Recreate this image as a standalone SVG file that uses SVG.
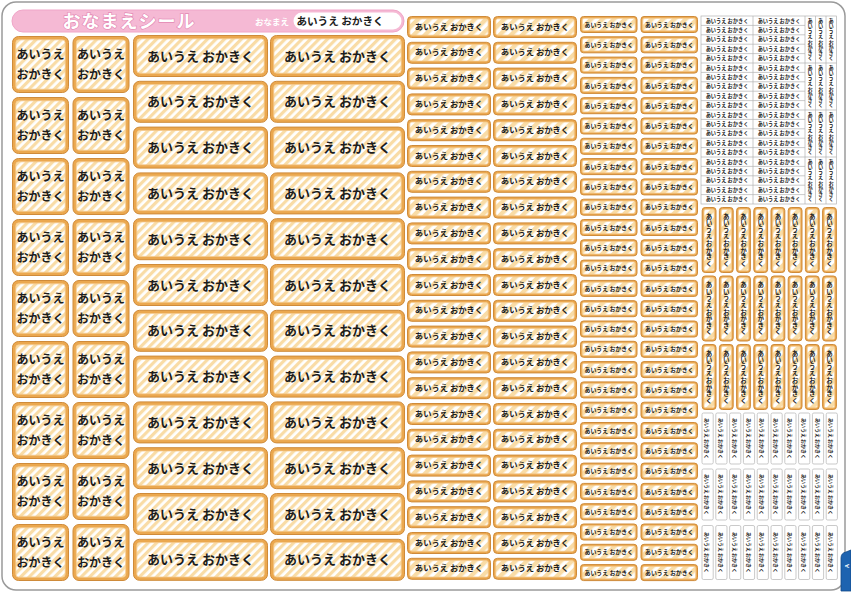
<svg xmlns="http://www.w3.org/2000/svg" width="851" height="593" viewBox="0 0 851 593">
<style>
text{font-family:"Noto Sans CJK JP","Noto Sans CJK SC",sans-serif;font-weight:700;fill:#1c1c1c;text-anchor:middle}
.t1{font-size:12px}
.t2{font-size:13px}
.t3{font-size:8.3px}
.t4{font-size:5.9px}
.t5{font-size:5.2px}
.t6{font-size:6.5px;writing-mode:vertical-rl}
.t7{font-size:5.2px;writing-mode:vertical-rl}
.t8{font-size:5px;dominant-baseline:central}
.o{fill:#eba84f;stroke:#cf8b3a;stroke-width:1}
.i{stroke:#f5cc90;stroke-width:0.8}
.w{fill:#fff;stroke:#b3b3b3;stroke-width:0.7}
</style>
<defs>
<pattern id="st" patternUnits="userSpaceOnUse" width="6" height="6" patternTransform="rotate(45)">
<rect width="6" height="6" fill="#ffffff"/><rect width="3.2" height="6" fill="#f9dca6"/>
</pattern>
<pattern id="st2" patternUnits="userSpaceOnUse" width="8" height="8" patternTransform="rotate(45)">
<rect width="8" height="8" fill="#ffffff"/><rect width="4.4" height="8" fill="#f9dca6"/>
</pattern>
<g id="sq"><rect class="o" x="0.5" y="0.5" width="56" height="56" rx="6"/><rect class="i" x="3.8" y="3.8" width="49.4" height="49.4" rx="3" fill="url(#st)"/></g>
<g id="wd"><rect class="o" x="0.5" y="0.5" width="134" height="41" rx="6"/><rect class="i" x="3.8" y="3.8" width="127.4" height="34.4" rx="3" fill="url(#st)"/></g>
<g id="sm"><rect class="o" x="0.5" y="0.5" width="83" height="21" rx="4"/><rect class="i" x="2.8" y="2.8" width="78.4" height="16.4" rx="2" fill="url(#st2)"/></g>
<g id="ti"><rect class="o" x="0.5" y="0.5" width="56.5" height="16" rx="3"/><rect class="i" x="2.3" y="2.3" width="52.9" height="12.4" rx="1.5" fill="url(#st2)"/></g>
<g id="vt"><rect class="o" x="0.5" y="0.5" width="13.8" height="65" rx="3"/><rect class="i" x="2.3" y="2.3" width="10.2" height="61.4" rx="1.5" fill="url(#st2)"/></g>
</defs>

<rect width="851" height="593" fill="#fff"/>
<rect id="sheet" x="2" y="2" width="843" height="588" rx="14" fill="#fff" stroke="#9a9a9a" stroke-width="1.5"/>
<g id="tab">
<path d="M841 558 Q841 553 846 552 L851 550 L851 591 L841 591 Z" fill="#1d63b0" stroke="#124a88" stroke-width="0.8"/>
<text transform="translate(846.5,566) rotate(-90)" style="font-family:'Liberation Sans',sans-serif;font-size:6px;fill:#fff;dominant-baseline:central">A</text>
</g>

<g id="header">
<rect x="12" y="10" width="392" height="22" rx="11" fill="#f5b9d4" stroke="#f0a6c8" stroke-width="1"/>
<text x="129" y="28" style="font-size:18px;fill:#fff;stroke:#e48ab4;stroke-width:1.3px;paint-order:stroke;letter-spacing:1px">おなまえシール</text>
<text x="272" y="24.5" style="font-size:8.5px;fill:#fff">おなまえ</text>
<rect x="293.5" y="12.5" width="108" height="17" rx="8.5" fill="#fff"/>
<text x="340" y="25" style="font-size:10.6px">あいうえ おかきく</text>
</g>

<g id="col1" class="t1">
<use href="#sq" x="12" y="36"/><use href="#sq" x="72.5" y="36"/>
<use href="#sq" x="12" y="97"/><use href="#sq" x="72.5" y="97"/>
<use href="#sq" x="12" y="158"/><use href="#sq" x="72.5" y="158"/>
<use href="#sq" x="12" y="219"/><use href="#sq" x="72.5" y="219"/>
<use href="#sq" x="12" y="280"/><use href="#sq" x="72.5" y="280"/>
<use href="#sq" x="12" y="341"/><use href="#sq" x="72.5" y="341"/>
<use href="#sq" x="12" y="402"/><use href="#sq" x="72.5" y="402"/>
<use href="#sq" x="12" y="463"/><use href="#sq" x="72.5" y="463"/>
<use href="#sq" x="12" y="524"/><use href="#sq" x="72.5" y="524"/>
<text x="40.5" y="59">あいうえ<tspan x="40.5" y="79">おかきく</tspan></text><text x="101" y="59">あいうえ<tspan x="101" y="79">おかきく</tspan></text>
<text x="40.5" y="120">あいうえ<tspan x="40.5" y="140">おかきく</tspan></text><text x="101" y="120">あいうえ<tspan x="101" y="140">おかきく</tspan></text>
<text x="40.5" y="181">あいうえ<tspan x="40.5" y="201">おかきく</tspan></text><text x="101" y="181">あいうえ<tspan x="101" y="201">おかきく</tspan></text>
<text x="40.5" y="242">あいうえ<tspan x="40.5" y="262">おかきく</tspan></text><text x="101" y="242">あいうえ<tspan x="101" y="262">おかきく</tspan></text>
<text x="40.5" y="303">あいうえ<tspan x="40.5" y="323">おかきく</tspan></text><text x="101" y="303">あいうえ<tspan x="101" y="323">おかきく</tspan></text>
<text x="40.5" y="364">あいうえ<tspan x="40.5" y="384">おかきく</tspan></text><text x="101" y="364">あいうえ<tspan x="101" y="384">おかきく</tspan></text>
<text x="40.5" y="425">あいうえ<tspan x="40.5" y="445">おかきく</tspan></text><text x="101" y="425">あいうえ<tspan x="101" y="445">おかきく</tspan></text>
<text x="40.5" y="486">あいうえ<tspan x="40.5" y="506">おかきく</tspan></text><text x="101" y="486">あいうえ<tspan x="101" y="506">おかきく</tspan></text>
<text x="40.5" y="547">あいうえ<tspan x="40.5" y="567">おかきく</tspan></text><text x="101" y="547">あいうえ<tspan x="101" y="567">おかきく</tspan></text>
</g>

<g id="col2" class="t2">
<use href="#wd" x="133" y="35"/><use href="#wd" x="270" y="35"/>
<use href="#wd" x="133" y="80.8"/><use href="#wd" x="270" y="80.8"/>
<use href="#wd" x="133" y="126.6"/><use href="#wd" x="270" y="126.6"/>
<use href="#wd" x="133" y="172.4"/><use href="#wd" x="270" y="172.4"/>
<use href="#wd" x="133" y="218.2"/><use href="#wd" x="270" y="218.2"/>
<use href="#wd" x="133" y="264"/><use href="#wd" x="270" y="264"/>
<use href="#wd" x="133" y="309.8"/><use href="#wd" x="270" y="309.8"/>
<use href="#wd" x="133" y="355.6"/><use href="#wd" x="270" y="355.6"/>
<use href="#wd" x="133" y="401.4"/><use href="#wd" x="270" y="401.4"/>
<use href="#wd" x="133" y="447.2"/><use href="#wd" x="270" y="447.2"/>
<use href="#wd" x="133" y="493"/><use href="#wd" x="270" y="493"/>
<use href="#wd" x="133" y="538.8"/><use href="#wd" x="270" y="538.8"/>
<text x="200.5" y="60.5">あいうえ おかきく</text><text x="337.5" y="60.5">あいうえ おかきく</text>
<text x="200.5" y="106.3">あいうえ おかきく</text><text x="337.5" y="106.3">あいうえ おかきく</text>
<text x="200.5" y="152.1">あいうえ おかきく</text><text x="337.5" y="152.1">あいうえ おかきく</text>
<text x="200.5" y="197.9">あいうえ おかきく</text><text x="337.5" y="197.9">あいうえ おかきく</text>
<text x="200.5" y="243.7">あいうえ おかきく</text><text x="337.5" y="243.7">あいうえ おかきく</text>
<text x="200.5" y="289.5">あいうえ おかきく</text><text x="337.5" y="289.5">あいうえ おかきく</text>
<text x="200.5" y="335.3">あいうえ おかきく</text><text x="337.5" y="335.3">あいうえ おかきく</text>
<text x="200.5" y="381.1">あいうえ おかきく</text><text x="337.5" y="381.1">あいうえ おかきく</text>
<text x="200.5" y="426.9">あいうえ おかきく</text><text x="337.5" y="426.9">あいうえ おかきく</text>
<text x="200.5" y="472.7">あいうえ おかきく</text><text x="337.5" y="472.7">あいうえ おかきく</text>
<text x="200.5" y="518.5">あいうえ おかきく</text><text x="337.5" y="518.5">あいうえ おかきく</text>
<text x="200.5" y="564.3">あいうえ おかきく</text><text x="337.5" y="564.3">あいうえ おかきく</text>
</g>

<g id="col3" class="t3">
<use href="#sm" x="407" y="16"/><use href="#sm" x="493" y="16"/>
<use href="#sm" x="407" y="41.8"/><use href="#sm" x="493" y="41.8"/>
<use href="#sm" x="407" y="67.6"/><use href="#sm" x="493" y="67.6"/>
<use href="#sm" x="407" y="93.4"/><use href="#sm" x="493" y="93.4"/>
<use href="#sm" x="407" y="119.2"/><use href="#sm" x="493" y="119.2"/>
<use href="#sm" x="407" y="145"/><use href="#sm" x="493" y="145"/>
<use href="#sm" x="407" y="170.8"/><use href="#sm" x="493" y="170.8"/>
<use href="#sm" x="407" y="196.6"/><use href="#sm" x="493" y="196.6"/>
<use href="#sm" x="407" y="222.4"/><use href="#sm" x="493" y="222.4"/>
<use href="#sm" x="407" y="248.2"/><use href="#sm" x="493" y="248.2"/>
<use href="#sm" x="407" y="274"/><use href="#sm" x="493" y="274"/>
<use href="#sm" x="407" y="299.8"/><use href="#sm" x="493" y="299.8"/>
<use href="#sm" x="407" y="325.6"/><use href="#sm" x="493" y="325.6"/>
<use href="#sm" x="407" y="351.4"/><use href="#sm" x="493" y="351.4"/>
<use href="#sm" x="407" y="377.2"/><use href="#sm" x="493" y="377.2"/>
<use href="#sm" x="407" y="403"/><use href="#sm" x="493" y="403"/>
<use href="#sm" x="407" y="428.8"/><use href="#sm" x="493" y="428.8"/>
<use href="#sm" x="407" y="454.6"/><use href="#sm" x="493" y="454.6"/>
<use href="#sm" x="407" y="480.4"/><use href="#sm" x="493" y="480.4"/>
<use href="#sm" x="407" y="506.2"/><use href="#sm" x="493" y="506.2"/>
<use href="#sm" x="407" y="532"/><use href="#sm" x="493" y="532"/>
<use href="#sm" x="407" y="557.8"/><use href="#sm" x="493" y="557.8"/>
<text x="449" y="29.5">あいうえ おかきく</text><text x="535" y="29.5">あいうえ おかきく</text>
<text x="449" y="55.3">あいうえ おかきく</text><text x="535" y="55.3">あいうえ おかきく</text>
<text x="449" y="81.1">あいうえ おかきく</text><text x="535" y="81.1">あいうえ おかきく</text>
<text x="449" y="106.9">あいうえ おかきく</text><text x="535" y="106.9">あいうえ おかきく</text>
<text x="449" y="132.7">あいうえ おかきく</text><text x="535" y="132.7">あいうえ おかきく</text>
<text x="449" y="158.5">あいうえ おかきく</text><text x="535" y="158.5">あいうえ おかきく</text>
<text x="449" y="184.3">あいうえ おかきく</text><text x="535" y="184.3">あいうえ おかきく</text>
<text x="449" y="210.1">あいうえ おかきく</text><text x="535" y="210.1">あいうえ おかきく</text>
<text x="449" y="235.9">あいうえ おかきく</text><text x="535" y="235.9">あいうえ おかきく</text>
<text x="449" y="261.7">あいうえ おかきく</text><text x="535" y="261.7">あいうえ おかきく</text>
<text x="449" y="287.5">あいうえ おかきく</text><text x="535" y="287.5">あいうえ おかきく</text>
<text x="449" y="313.3">あいうえ おかきく</text><text x="535" y="313.3">あいうえ おかきく</text>
<text x="449" y="339.1">あいうえ おかきく</text><text x="535" y="339.1">あいうえ おかきく</text>
<text x="449" y="364.9">あいうえ おかきく</text><text x="535" y="364.9">あいうえ おかきく</text>
<text x="449" y="390.7">あいうえ おかきく</text><text x="535" y="390.7">あいうえ おかきく</text>
<text x="449" y="416.5">あいうえ おかきく</text><text x="535" y="416.5">あいうえ おかきく</text>
<text x="449" y="442.3">あいうえ おかきく</text><text x="535" y="442.3">あいうえ おかきく</text>
<text x="449" y="468.1">あいうえ おかきく</text><text x="535" y="468.1">あいうえ おかきく</text>
<text x="449" y="493.9">あいうえ おかきく</text><text x="535" y="493.9">あいうえ おかきく</text>
<text x="449" y="519.7">あいうえ おかきく</text><text x="535" y="519.7">あいうえ おかきく</text>
<text x="449" y="545.5">あいうえ おかきく</text><text x="535" y="545.5">あいうえ おかきく</text>
<text x="449" y="571.3">あいうえ おかきく</text><text x="535" y="571.3">あいうえ おかきく</text>
</g>

<g id="col4" class="t4">
<use href="#ti" x="580" y="16"/><use href="#ti" x="640.5" y="16"/>
<use href="#ti" x="580" y="36.3"/><use href="#ti" x="640.5" y="36.3"/>
<use href="#ti" x="580" y="56.6"/><use href="#ti" x="640.5" y="56.6"/>
<use href="#ti" x="580" y="76.9"/><use href="#ti" x="640.5" y="76.9"/>
<use href="#ti" x="580" y="97.2"/><use href="#ti" x="640.5" y="97.2"/>
<use href="#ti" x="580" y="117.5"/><use href="#ti" x="640.5" y="117.5"/>
<use href="#ti" x="580" y="137.8"/><use href="#ti" x="640.5" y="137.8"/>
<use href="#ti" x="580" y="158.1"/><use href="#ti" x="640.5" y="158.1"/>
<use href="#ti" x="580" y="178.4"/><use href="#ti" x="640.5" y="178.4"/>
<use href="#ti" x="580" y="198.7"/><use href="#ti" x="640.5" y="198.7"/>
<use href="#ti" x="580" y="219"/><use href="#ti" x="640.5" y="219"/>
<use href="#ti" x="580" y="239.3"/><use href="#ti" x="640.5" y="239.3"/>
<use href="#ti" x="580" y="259.6"/><use href="#ti" x="640.5" y="259.6"/>
<use href="#ti" x="580" y="279.9"/><use href="#ti" x="640.5" y="279.9"/>
<use href="#ti" x="580" y="300.2"/><use href="#ti" x="640.5" y="300.2"/>
<use href="#ti" x="580" y="320.5"/><use href="#ti" x="640.5" y="320.5"/>
<use href="#ti" x="580" y="340.8"/><use href="#ti" x="640.5" y="340.8"/>
<use href="#ti" x="580" y="361.1"/><use href="#ti" x="640.5" y="361.1"/>
<use href="#ti" x="580" y="381.4"/><use href="#ti" x="640.5" y="381.4"/>
<use href="#ti" x="580" y="401.7"/><use href="#ti" x="640.5" y="401.7"/>
<use href="#ti" x="580" y="422"/><use href="#ti" x="640.5" y="422"/>
<use href="#ti" x="580" y="442.3"/><use href="#ti" x="640.5" y="442.3"/>
<use href="#ti" x="580" y="462.6"/><use href="#ti" x="640.5" y="462.6"/>
<use href="#ti" x="580" y="482.9"/><use href="#ti" x="640.5" y="482.9"/>
<use href="#ti" x="580" y="503.2"/><use href="#ti" x="640.5" y="503.2"/>
<use href="#ti" x="580" y="523.5"/><use href="#ti" x="640.5" y="523.5"/>
<use href="#ti" x="580" y="543.8"/><use href="#ti" x="640.5" y="543.8"/>
<use href="#ti" x="580" y="564.1"/><use href="#ti" x="640.5" y="564.1"/>
<text x="608.8" y="26.6">あいうえ おかきく</text><text x="669.3" y="26.6">あいうえ おかきく</text>
<text x="608.8" y="46.9">あいうえ おかきく</text><text x="669.3" y="46.9">あいうえ おかきく</text>
<text x="608.8" y="67.2">あいうえ おかきく</text><text x="669.3" y="67.2">あいうえ おかきく</text>
<text x="608.8" y="87.5">あいうえ おかきく</text><text x="669.3" y="87.5">あいうえ おかきく</text>
<text x="608.8" y="107.8">あいうえ おかきく</text><text x="669.3" y="107.8">あいうえ おかきく</text>
<text x="608.8" y="128.1">あいうえ おかきく</text><text x="669.3" y="128.1">あいうえ おかきく</text>
<text x="608.8" y="148.4">あいうえ おかきく</text><text x="669.3" y="148.4">あいうえ おかきく</text>
<text x="608.8" y="168.7">あいうえ おかきく</text><text x="669.3" y="168.7">あいうえ おかきく</text>
<text x="608.8" y="189">あいうえ おかきく</text><text x="669.3" y="189">あいうえ おかきく</text>
<text x="608.8" y="209.3">あいうえ おかきく</text><text x="669.3" y="209.3">あいうえ おかきく</text>
<text x="608.8" y="229.6">あいうえ おかきく</text><text x="669.3" y="229.6">あいうえ おかきく</text>
<text x="608.8" y="249.9">あいうえ おかきく</text><text x="669.3" y="249.9">あいうえ おかきく</text>
<text x="608.8" y="270.2">あいうえ おかきく</text><text x="669.3" y="270.2">あいうえ おかきく</text>
<text x="608.8" y="290.5">あいうえ おかきく</text><text x="669.3" y="290.5">あいうえ おかきく</text>
<text x="608.8" y="310.8">あいうえ おかきく</text><text x="669.3" y="310.8">あいうえ おかきく</text>
<text x="608.8" y="331.1">あいうえ おかきく</text><text x="669.3" y="331.1">あいうえ おかきく</text>
<text x="608.8" y="351.4">あいうえ おかきく</text><text x="669.3" y="351.4">あいうえ おかきく</text>
<text x="608.8" y="371.7">あいうえ おかきく</text><text x="669.3" y="371.7">あいうえ おかきく</text>
<text x="608.8" y="392">あいうえ おかきく</text><text x="669.3" y="392">あいうえ おかきく</text>
<text x="608.8" y="412.3">あいうえ おかきく</text><text x="669.3" y="412.3">あいうえ おかきく</text>
<text x="608.8" y="432.6">あいうえ おかきく</text><text x="669.3" y="432.6">あいうえ おかきく</text>
<text x="608.8" y="452.9">あいうえ おかきく</text><text x="669.3" y="452.9">あいうえ おかきく</text>
<text x="608.8" y="473.2">あいうえ おかきく</text><text x="669.3" y="473.2">あいうえ おかきく</text>
<text x="608.8" y="493.5">あいうえ おかきく</text><text x="669.3" y="493.5">あいうえ おかきく</text>
<text x="608.8" y="513.8">あいうえ おかきく</text><text x="669.3" y="513.8">あいうえ おかきく</text>
<text x="608.8" y="534.1">あいうえ おかきく</text><text x="669.3" y="534.1">あいうえ おかきく</text>
<text x="608.8" y="554.4">あいうえ おかきく</text><text x="669.3" y="554.4">あいうえ おかきく</text>
<text x="608.8" y="574.7">あいうえ おかきく</text><text x="669.3" y="574.7">あいうえ おかきく</text>
</g>

<g id="grid-white">
<rect class="w" x="701" y="16" width="135.5" height="188"/>
<path d="M753 16V204M805 16V204M815.5 16V204M826 16V204M805 63H836.5M805 110H836.5M805 157H836.5M701 25.4H805M701 34.8H805M701 44.2H805M701 53.6H805M701 63H805M701 72.4H805M701 81.8H805M701 91.2H805M701 100.6H805M701 110H805M701 119.4H805M701 128.8H805M701 138.2H805M701 147.6H805M701 157H805M701 166.4H805M701 175.8H805M701 185.2H805M701 194.6H805" fill="none" stroke="#b3b3b3" stroke-width="0.7"/>
<g class="t5">
<text x="727" y="22.5">あいうえ おかきく</text><text x="779" y="22.5">あいうえ おかきく</text>
<text x="727" y="31.9">あいうえ おかきく</text><text x="779" y="31.9">あいうえ おかきく</text>
<text x="727" y="41.3">あいうえ おかきく</text><text x="779" y="41.3">あいうえ おかきく</text>
<text x="727" y="50.7">あいうえ おかきく</text><text x="779" y="50.7">あいうえ おかきく</text>
<text x="727" y="60.1">あいうえ おかきく</text><text x="779" y="60.1">あいうえ おかきく</text>
<text x="727" y="69.5">あいうえ おかきく</text><text x="779" y="69.5">あいうえ おかきく</text>
<text x="727" y="78.9">あいうえ おかきく</text><text x="779" y="78.9">あいうえ おかきく</text>
<text x="727" y="88.3">あいうえ おかきく</text><text x="779" y="88.3">あいうえ おかきく</text>
<text x="727" y="97.7">あいうえ おかきく</text><text x="779" y="97.7">あいうえ おかきく</text>
<text x="727" y="107.1">あいうえ おかきく</text><text x="779" y="107.1">あいうえ おかきく</text>
<text x="727" y="116.5">あいうえ おかきく</text><text x="779" y="116.5">あいうえ おかきく</text>
<text x="727" y="125.9">あいうえ おかきく</text><text x="779" y="125.9">あいうえ おかきく</text>
<text x="727" y="135.3">あいうえ おかきく</text><text x="779" y="135.3">あいうえ おかきく</text>
<text x="727" y="144.7">あいうえ おかきく</text><text x="779" y="144.7">あいうえ おかきく</text>
<text x="727" y="154.1">あいうえ おかきく</text><text x="779" y="154.1">あいうえ おかきく</text>
<text x="727" y="163.5">あいうえ おかきく</text><text x="779" y="163.5">あいうえ おかきく</text>
<text x="727" y="172.9">あいうえ おかきく</text><text x="779" y="172.9">あいうえ おかきく</text>
<text x="727" y="182.3">あいうえ おかきく</text><text x="779" y="182.3">あいうえ おかきく</text>
<text x="727" y="191.7">あいうえ おかきく</text><text x="779" y="191.7">あいうえ おかきく</text>
<text x="727" y="201.1">あいうえ おかきく</text><text x="779" y="201.1">あいうえ おかきく</text>
</g>
<g class="t7">
<text x="810.2" y="39.5">あいうえ おかきく</text><text x="820.7" y="39.5">あいうえ おかきく</text><text x="831.2" y="39.5">あいうえ おかきく</text>
<text x="810.2" y="86.5">あいうえ おかきく</text><text x="820.7" y="86.5">あいうえ おかきく</text><text x="831.2" y="86.5">あいうえ おかきく</text>
<text x="810.2" y="133.5">あいうえ おかきく</text><text x="820.7" y="133.5">あいうえ おかきく</text><text x="831.2" y="133.5">あいうえ おかきく</text>
<text x="810.2" y="180.5">あいうえ おかきく</text><text x="820.7" y="180.5">あいうえ おかきく</text><text x="831.2" y="180.5">あいうえ おかきく</text>
</g>
</g>

<g id="vertical-orange" class="t6">
<use href="#vt" x="701.7" y="207"/><use href="#vt" x="718.9" y="207"/><use href="#vt" x="736.1" y="207"/><use href="#vt" x="753.3" y="207"/><use href="#vt" x="770.5" y="207"/><use href="#vt" x="787.7" y="207"/><use href="#vt" x="804.9" y="207"/><use href="#vt" x="822.1" y="207"/>
<use href="#vt" x="701.7" y="275.5"/><use href="#vt" x="718.9" y="275.5"/><use href="#vt" x="736.1" y="275.5"/><use href="#vt" x="753.3" y="275.5"/><use href="#vt" x="770.5" y="275.5"/><use href="#vt" x="787.7" y="275.5"/><use href="#vt" x="804.9" y="275.5"/><use href="#vt" x="822.1" y="275.5"/>
<use href="#vt" x="701.7" y="344"/><use href="#vt" x="718.9" y="344"/><use href="#vt" x="736.1" y="344"/><use href="#vt" x="753.3" y="344"/><use href="#vt" x="770.5" y="344"/><use href="#vt" x="787.7" y="344"/><use href="#vt" x="804.9" y="344"/><use href="#vt" x="822.1" y="344"/>
<text x="709.1" y="240">あいうえ おかきく</text><text x="726.3" y="240">あいうえ おかきく</text><text x="743.5" y="240">あいうえ おかきく</text><text x="760.7" y="240">あいうえ おかきく</text><text x="777.9" y="240">あいうえ おかきく</text><text x="795.1" y="240">あいうえ おかきく</text><text x="812.3" y="240">あいうえ おかきく</text><text x="829.5" y="240">あいうえ おかきく</text>
<text x="709.1" y="308.5">あいうえ おかきく</text><text x="726.3" y="308.5">あいうえ おかきく</text><text x="743.5" y="308.5">あいうえ おかきく</text><text x="760.7" y="308.5">あいうえ おかきく</text><text x="777.9" y="308.5">あいうえ おかきく</text><text x="795.1" y="308.5">あいうえ おかきく</text><text x="812.3" y="308.5">あいうえ おかきく</text><text x="829.5" y="308.5">あいうえ おかきく</text>
<text x="709.1" y="377">あいうえ おかきく</text><text x="726.3" y="377">あいうえ おかきく</text><text x="743.5" y="377">あいうえ おかきく</text><text x="760.7" y="377">あいうえ おかきく</text><text x="777.9" y="377">あいうえ おかきく</text><text x="795.1" y="377">あいうえ おかきく</text><text x="812.3" y="377">あいうえ おかきく</text><text x="829.5" y="377">あいうえ おかきく</text>
</g>

<g id="vertical-white">
<g fill="#fff" stroke="#b3b3b3" stroke-width="0.7">
<rect x="702" y="413" width="11.2" height="51" rx="1.5"/><rect x="715.8" y="413" width="11.2" height="51" rx="1.5"/><rect x="729.6" y="413" width="11.2" height="51" rx="1.5"/><rect x="743.4" y="413" width="11.2" height="51" rx="1.5"/><rect x="757.2" y="413" width="11.2" height="51" rx="1.5"/><rect x="771" y="413" width="11.2" height="51" rx="1.5"/><rect x="784.8" y="413" width="11.2" height="51" rx="1.5"/><rect x="798.6" y="413" width="11.2" height="51" rx="1.5"/><rect x="812.4" y="413" width="11.2" height="51" rx="1.5"/><rect x="826.2" y="413" width="11.2" height="51" rx="1.5"/>
<rect x="702" y="469" width="11.2" height="51" rx="1.5"/><rect x="715.8" y="469" width="11.2" height="51" rx="1.5"/><rect x="729.6" y="469" width="11.2" height="51" rx="1.5"/><rect x="743.4" y="469" width="11.2" height="51" rx="1.5"/><rect x="757.2" y="469" width="11.2" height="51" rx="1.5"/><rect x="771" y="469" width="11.2" height="51" rx="1.5"/><rect x="784.8" y="469" width="11.2" height="51" rx="1.5"/><rect x="798.6" y="469" width="11.2" height="51" rx="1.5"/><rect x="812.4" y="469" width="11.2" height="51" rx="1.5"/><rect x="826.2" y="469" width="11.2" height="51" rx="1.5"/>
<rect x="702" y="525.5" width="11.2" height="54" rx="1.5"/><rect x="715.8" y="525.5" width="11.2" height="54" rx="1.5"/><rect x="729.6" y="525.5" width="11.2" height="54" rx="1.5"/><rect x="743.4" y="525.5" width="11.2" height="54" rx="1.5"/><rect x="757.2" y="525.5" width="11.2" height="54" rx="1.5"/><rect x="771" y="525.5" width="11.2" height="54" rx="1.5"/><rect x="784.8" y="525.5" width="11.2" height="54" rx="1.5"/><rect x="798.6" y="525.5" width="11.2" height="54" rx="1.5"/><rect x="812.4" y="525.5" width="11.2" height="54" rx="1.5"/><rect x="826.2" y="525.5" width="11.2" height="54" rx="1.5"/>
</g>
<g class="t8">
<text transform="translate(707.6,438.5) rotate(90)">あいうえ おかきく</text><text transform="translate(721.4,438.5) rotate(90)">あいうえ おかきく</text><text transform="translate(735.2,438.5) rotate(90)">あいうえ おかきく</text><text transform="translate(749,438.5) rotate(90)">あいうえ おかきく</text><text transform="translate(762.8,438.5) rotate(90)">あいうえ おかきく</text><text transform="translate(776.6,438.5) rotate(90)">あいうえ おかきく</text><text transform="translate(790.4,438.5) rotate(90)">あいうえ おかきく</text><text transform="translate(804.2,438.5) rotate(90)">あいうえ おかきく</text><text transform="translate(818,438.5) rotate(90)">あいうえ おかきく</text><text transform="translate(831.8,438.5) rotate(90)">あいうえ おかきく</text>
<text transform="translate(707.6,494.5) rotate(90)">あいうえ おかきく</text><text transform="translate(721.4,494.5) rotate(90)">あいうえ おかきく</text><text transform="translate(735.2,494.5) rotate(90)">あいうえ おかきく</text><text transform="translate(749,494.5) rotate(90)">あいうえ おかきく</text><text transform="translate(762.8,494.5) rotate(90)">あいうえ おかきく</text><text transform="translate(776.6,494.5) rotate(90)">あいうえ おかきく</text><text transform="translate(790.4,494.5) rotate(90)">あいうえ おかきく</text><text transform="translate(804.2,494.5) rotate(90)">あいうえ おかきく</text><text transform="translate(818,494.5) rotate(90)">あいうえ おかきく</text><text transform="translate(831.8,494.5) rotate(90)">あいうえ おかきく</text>
<text transform="translate(707.6,552.5) rotate(90)">あいうえ おかきく</text><text transform="translate(721.4,552.5) rotate(90)">あいうえ おかきく</text><text transform="translate(735.2,552.5) rotate(90)">あいうえ おかきく</text><text transform="translate(749,552.5) rotate(90)">あいうえ おかきく</text><text transform="translate(762.8,552.5) rotate(90)">あいうえ おかきく</text><text transform="translate(776.6,552.5) rotate(90)">あいうえ おかきく</text><text transform="translate(790.4,552.5) rotate(90)">あいうえ おかきく</text><text transform="translate(804.2,552.5) rotate(90)">あいうえ おかきく</text><text transform="translate(818,552.5) rotate(90)">あいうえ おかきく</text><text transform="translate(831.8,552.5) rotate(90)">あいうえ おかきく</text>
</g>
</g>
</svg>
